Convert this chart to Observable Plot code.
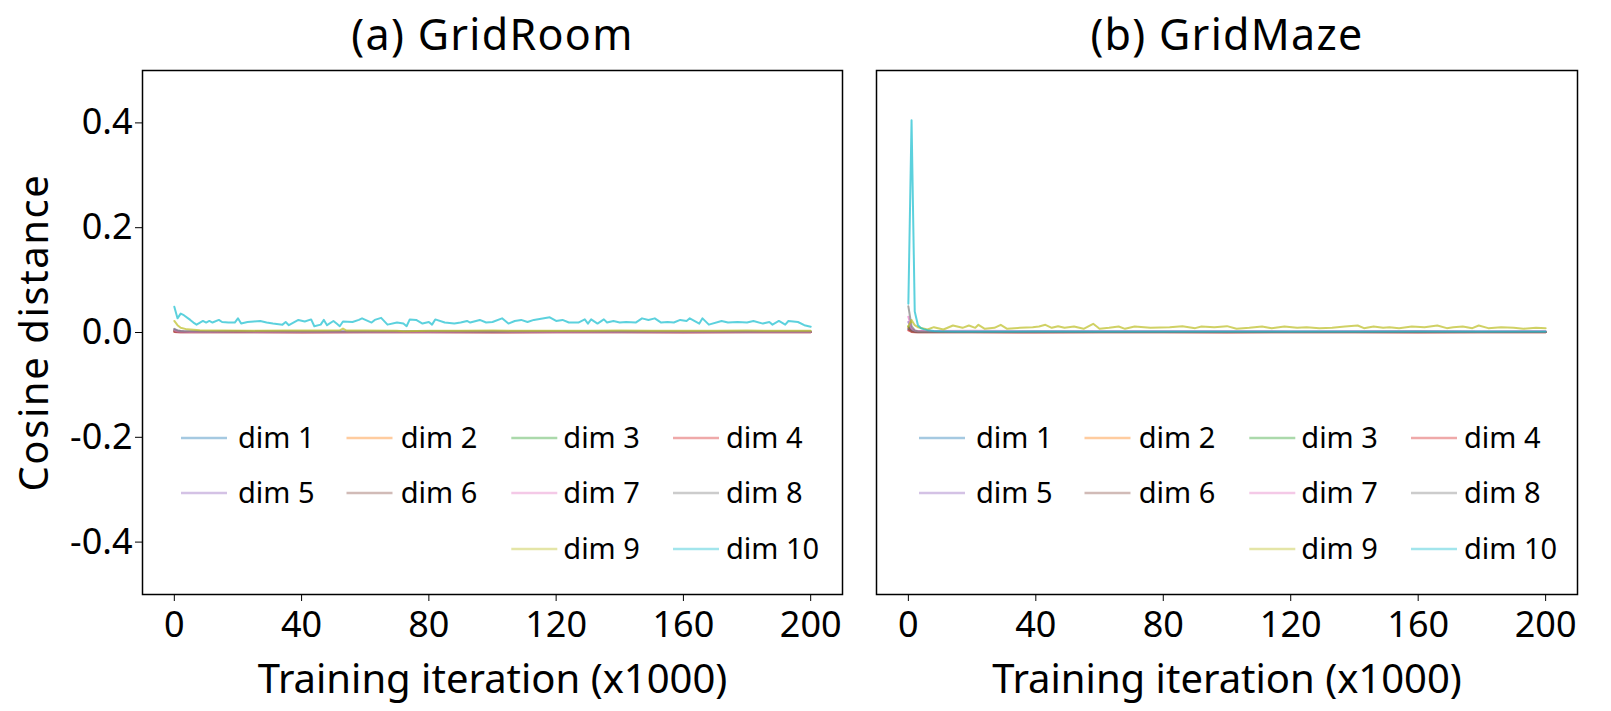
<!DOCTYPE html>
<html><head><meta charset="utf-8">
<script src="https://cdn.jsdelivr.net/npm/d3@7"></script>
<script src="https://cdn.jsdelivr.net/npm/@observablehq/plot@0.6"></script>
<style>
html,body{margin:0;padding:0;background:#fff;}
#wrap{position:relative;width:1611px;height:711px;overflow:hidden;background:#fff;}
#wrap svg{position:absolute;top:0;}
</style></head><body><div id="wrap"></div>
<script>
// ---------- data ----------
const dimNames = ["dim 1","dim 2","dim 3","dim 4","dim 5","dim 6","dim 7","dim 8","dim 9","dim 10"];
const dimColors = ["#1f77b4","#ff7f0e","#2ca02c","#d62728","#9467bd","#8c564b","#e377c2","#7f7f7f","#bcbd22","#17becf"];
const xTicks = [0, 40, 80, 120, 160, 200];
const yTicks = [-0.4, -0.2, 0.0, 0.2, 0.4];
const panelTitles = ["(a) GridRoom", "(b) GridMaze"];
const xLabel = "Training iteration (x1000)";
const yLabel = "Cosine distance";

// x positions shared by the near-zero dimensions
const lowX = [0,1,2,3,5,10,20,40,60,80,100,120,140,160,180,200];

// GridRoom dims 1-8
const roomDim1 = [0.004,0.002,0.0015,0.001,0.001,0.001,0.0012,0.001,0.001,0.0012,0.001,0.001,0.0012,0.001,0.001,0.001];
const roomDim2 = [0.003,0.0015,0.001,0.001,0.001,0.0008,0.001,0.0008,0.001,0.0008,0.0008,0.001,0.0008,0.0008,0.001,0.0008];
const roomDim3 = [0.004,0.002,0.0012,0.001,0.001,0.001,0.0008,0.001,0.0009,0.001,0.0008,0.001,0.0009,0.001,0.0008,0.001];
const roomDim4 = [0.001,0.0006,0.0004,0.0003,0.0003,0.0003,0.0003,0.0002,0.0003,0.0003,0.0002,0.0003,0.0003,0.0002,0.0003,0.0003];
const roomDim5 = [0.006,0.004,0.003,0.0025,0.002,0.002,0.0022,0.002,0.0021,0.002,0.0022,0.002,0.0021,0.002,0.002,0.002];
const roomDim6 = [0.002,0.001,0.0006,0.0005,0.0005,0.0004,0.0005,0.0004,0.0005,0.0004,0.0004,0.0005,0.0004,0.0004,0.0005,0.0004];
const roomDim7 = [0.004,0.002,0.0015,0.0012,0.001,0.001,0.0012,0.001,0.0011,0.001,0.0012,0.001,0.0011,0.001,0.001,0.001];
const roomDim8 = [0.007,0.004,0.003,0.0025,0.0022,0.002,0.0022,0.002,0.0021,0.0023,0.002,0.0022,0.002,0.0021,0.002,0.002];
const roomDim9X = [0,1,2,4,8,15,25,35,45,52,53,54,60,70,72,80,90,100,110,120,130,140,150,160,170,180,190,200];
const roomDim9Y = [0.022,0.014,0.009,0.006,0.0045,0.0038,0.0035,0.004,0.0036,0.0042,0.0075,0.004,0.0036,0.0032,0.0025,0.0035,0.0033,0.0036,0.0032,0.0035,0.0034,0.0036,0.0032,0.0035,0.0033,0.0036,0.0034,0.0035];
const roomDim10X = [0,1,2,3,5,6,7,9,10,11,12,14,15,17,19,20,21,23,25,27,29,31,34,35,36,39,41,43,44,46,47,48,50,51,52,53,56,58,59,62,63,65,67,70,72,73,74,76,78,80,81,82,85,88,90,92,93,96,98,100,103,105,107,109,111,113,118,120,122,124,127,129,130,131,133,135,136,138,140,142,145,147,149,151,153,155,157,159,161,162,165,166,168,172,174,177,180,182,185,187,188,190,192,193,196,198,200];
const roomDim10Y = [0.049,0.027,0.036,0.033,0.024,0.019,0.015,0.022,0.019,0.022,0.019,0.024,0.020,0.019,0.019,0.027,0.017,0.020,0.021,0.022,0.019,0.017,0.015,0.020,0.014,0.024,0.021,0.025,0.012,0.015,0.024,0.014,0.022,0.017,0.012,0.021,0.020,0.024,0.027,0.019,0.024,0.028,0.015,0.019,0.017,0.012,0.025,0.024,0.017,0.020,0.015,0.025,0.019,0.017,0.019,0.022,0.019,0.024,0.019,0.020,0.027,0.017,0.022,0.024,0.020,0.024,0.029,0.022,0.024,0.019,0.019,0.025,0.017,0.025,0.017,0.025,0.019,0.022,0.019,0.020,0.019,0.027,0.024,0.027,0.019,0.020,0.019,0.024,0.022,0.027,0.017,0.027,0.015,0.022,0.019,0.020,0.019,0.022,0.017,0.020,0.015,0.022,0.015,0.022,0.020,0.014,0.011];

// GridMaze dims 1-8
const mazeDim1 = [0.006,0.004,0.003,0.002,0.002,0.0018,0.0015,0.0016,0.0015,0.0016,0.0015,0.0015,0.0016,0.0015,0.0015,0.0015];
const mazeDim2 = [0.010,0.004,0.002,0.0012,0.001,0.001,0.0008,0.001,0.0009,0.001,0.0008,0.001,0.0009,0.0008,0.001,0.0009];
const mazeDim3 = [0.012,0.005,0.002,0.0012,0.001,0.001,0.0009,0.001,0.0008,0.001,0.0009,0.001,0.0008,0.001,0.0009,0.001];
const mazeDim4 = [0.004,0.001,0.0005,0.0004,0.0003,0.0003,0.0003,0.0002,0.0003,0.0003,0.0002,0.0003,0.0003,0.0002,0.0003,0.0003];
const mazeDim5 = [0.020,0.006,0.002,0.0015,0.0012,0.001,0.001,0.0012,0.001,0.001,0.0011,0.001,0.001,0.0012,0.001,0.001];
const mazeDim6 = [0.008,0.002,0.001,0.0006,0.0005,0.0005,0.0004,0.0005,0.0004,0.0005,0.0004,0.0004,0.0005,0.0004,0.0004,0.0005];
const mazeDim7 = [0.030,0.008,0.004,0.003,0.003,0.003,0.0035,0.0025,0.003,0.0028,0.003,0.0025,0.003,0.0028,0.0025,0.003];
const mazeDim8 = [0.050,0.012,0.004,0.002,0.0015,0.001,0.001,0.0012,0.001,0.001,0.0011,0.001,0.001,0.0012,0.001,0.001];
const mazeDim9X = [0,1,2,3,6,8,11,14,17,19,21,22,24,27,29,31,35,39,41,43,45,47,49,52,55,58,60,63,66,68,71,76,82,86,90,92,96,100,103,107,111,114,118,122,125,129,133,137,141,143,146,149,151,154,158,162,166,169,171,174,177,179,182,186,190,193,197,200];
const mazeDim9Y = [0.012,0.024,0.014,0.010,0.0057,0.0102,0.0057,0.0134,0.0089,0.0134,0.0089,0.0147,0.007,0.0089,0.0147,0.007,0.0089,0.0102,0.0115,0.0147,0.0089,0.0121,0.0089,0.0115,0.007,0.0166,0.007,0.0089,0.0115,0.007,0.0115,0.0089,0.0102,0.0121,0.0083,0.0115,0.0102,0.0121,0.007,0.0089,0.0115,0.0083,0.0115,0.0089,0.0102,0.0083,0.0089,0.0115,0.0134,0.0083,0.0115,0.0089,0.0102,0.0083,0.0115,0.0102,0.0134,0.0083,0.0102,0.0115,0.0083,0.0134,0.0083,0.0102,0.0089,0.007,0.0089,0.0083];
const mazeDim10X = [0,1,2,3,4,5,6,8,10,15,20,30,40,60,80,100,120,140,160,180,200];
const mazeDim10Y = [0.055,0.405,0.040,0.014,0.008,0.006,0.0045,0.003,0.0025,0.002,0.002,0.0018,0.002,0.0018,0.002,0.0018,0.002,0.0018,0.002,0.0018,0.002];

// ---------- build long tables ----------
function rows(xs, ys, dim) { return xs.map((x, i) => ({x, y: ys[i], dim})); }
const roomLow = [roomDim1,roomDim2,roomDim3,roomDim4,roomDim5,roomDim6,roomDim7,roomDim8];
const mazeLow = [mazeDim1,mazeDim2,mazeDim3,mazeDim4,mazeDim5,mazeDim6,mazeDim7,mazeDim8];
const roomData = [
  ...roomLow.flatMap((ys, i) => rows(lowX, ys, dimNames[i])),
  ...rows(roomDim9X, roomDim9Y, dimNames[8]),
  ...rows(roomDim10X, roomDim10Y, dimNames[9])
];
const mazeData = [
  ...mazeLow.flatMap((ys, i) => rows(lowX, ys, dimNames[i])),
  ...rows(mazeDim9X, mazeDim9Y, dimNames[8]),
  ...rows(mazeDim10X, mazeDim10Y, dimNames[9])
];

// ---------- drawing ----------
const FONT = "'Noto Sans', sans-serif";
const wrap = document.getElementById("wrap");

function panel({data, title, showY, left, width, marginLeft, marginRight, legendShift}) {
  const marks = [
    Plot.frame({stroke: "black", strokeWidth: 1.5}),
    Plot.axisX({ticks: xTicks, tickSize: 7, tickPadding: 10, fontSize: 36, label: null, tickFormat: d => String(d)}),
    Plot.line(data, {x: "x", y: "y", z: "dim", stroke: "dim", strokeWidth: 2, strokeOpacity: 0.7}),
    Plot.text([title], {frameAnchor: "top", dy: -34, fontSize: 43, lineAnchor: "middle", textAnchor: "middle", fill: "black"}),
    Plot.text([xLabel], {frameAnchor: "bottom", dy: 86, fontSize: 40, lineAnchor: "middle", textAnchor: "middle", fill: "black"})
  ];
  if (showY) {
    marks.push(Plot.axisY({ticks: yTicks, tickSize: 7, tickPadding: 3, fontSize: 36, label: null, tickFormat: d => d.toFixed(1)}));
    marks.push(Plot.text([yLabel], {frameAnchor: "left", dx: -107, rotate: -90, fontSize: 40, lineAnchor: "middle", textAnchor: "middle", fill: "black"}));
  }
  const svg = Plot.plot({
    width, height: 711,
    marginLeft, marginRight, marginTop: 70, marginBottom: 117,
    style: {fontFamily: FONT, background: "white", color: "black", overflow: "visible"},
    x: {domain: [-10, 210], axis: null},
    y: {domain: [-0.5, 0.5], axis: null},
    color: {domain: dimNames, range: dimColors},
    marks
  });
  svg.style.left = left + "px";
  // widen the wide-set labels a little (reference font is wider)
  d3.select(svg).selectAll("text").each(function() {
    const t = this.textContent;
    if (t === yLabel) this.setAttribute("letter-spacing", "1.6px");
    else if (t === title) this.setAttribute("letter-spacing", "1.3px");
  });
  // legend (matplotlib-style, inside the axes)
  const lineOff = [39, 204.5, 369.3, 531];
  const textOff = [96, 258.7, 421.3, 584];
  const rowY = [438, 493, 549];
  const layout = [[0,1,2,3],[4,5,6,7],[null,null,8,9]];
  const g = d3.select(svg).append("g").attr("font-family", FONT).attr("font-size", 29).attr("text-anchor", "start");
  layout.forEach((row, r) => row.forEach((k, c) => {
    if (k === null) return;
    const x0 = marginLeft + lineOff[c] + legendShift;
    g.append("line").attr("x1", x0).attr("x2", x0 + 46).attr("y1", rowY[r]).attr("y2", rowY[r])
      .attr("stroke", dimColors[k]).attr("stroke-opacity", 0.4).attr("stroke-width", 2.5);
    g.append("text").attr("x", marginLeft + textOff[c] + legendShift).attr("y", rowY[r]).attr("dy", "0.35em")
      .attr("text-anchor", "start").attr("fill", "black").text(dimNames[k]);
  }));
  wrap.appendChild(svg);
}

panel({data: roomData, title: panelTitles[0], showY: true, left: 0, width: 860, marginLeft: 142, marginRight: 18, legendShift: 0});
panel({data: mazeData, title: panelTitles[1], showY: false, left: 860, width: 751, marginLeft: 16, marginRight: 34, legendShift: 4});
</script></body></html>
